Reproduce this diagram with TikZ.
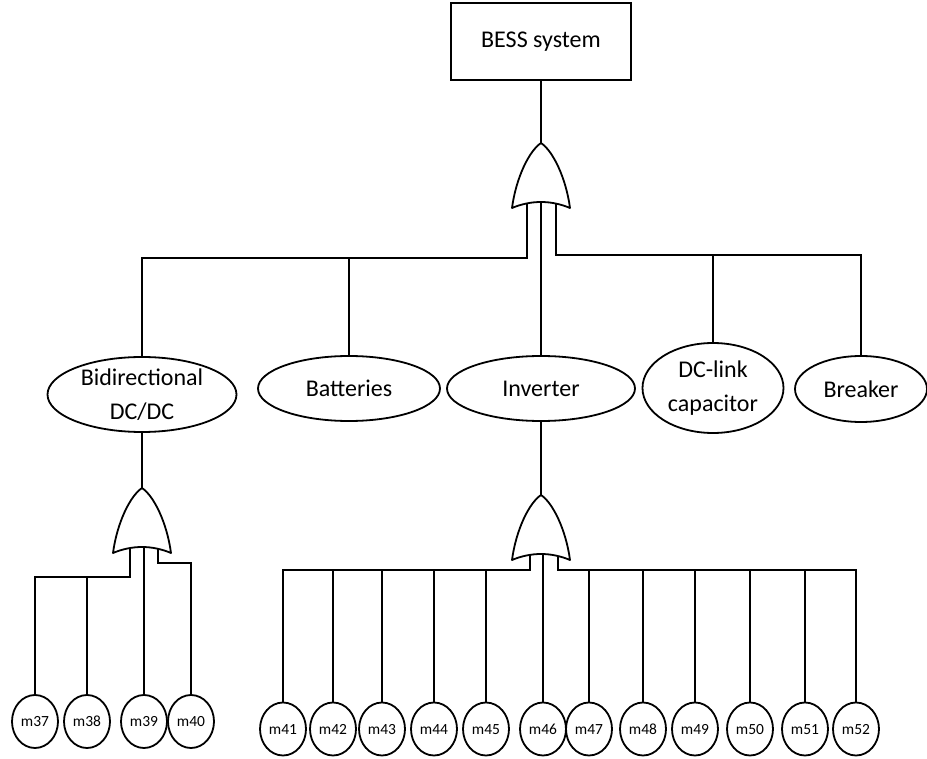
\documentclass[tikz,border=0pt]{standalone}
\usepackage{fontspec}
\setmainfont{Carlito}
\usetikzlibrary{shapes.geometric}
\begin{document}
\begin{tikzpicture}[x=1pt,y=-1pt,line width=1.8pt,
  topbox/.style={draw,rectangle,minimum width=180pt,minimum height=77pt,inner sep=0pt,font=\fontsize{24}{34}\selectfont},
  ev/.style={draw,ellipse,inner sep=0pt},
  evtext/.style={inner sep=0pt,align=center,font=\fontsize{24}{34}\selectfont},
  bev/.style={draw,ellipse,inner sep=0pt,minimum width=46pt,minimum height=53pt,text height=10.5pt,text depth=0pt,font=\fontsize{15.5}{18}\selectfont},
  gatestyle/.style={draw,fill=white,line join=round},
  orgate/.pic={\path[gatestyle] (-29,65) .. controls (-25,35) and (-12,8) .. (0,0)
      .. controls (12,8) and (25,35) .. (29,65)
      .. controls (10,57) and (-10,57) .. cycle;}]
\useasboundingbox (0,0) rectangle (927,759);

% top event
\node[topbox] (bess) at (541,41.5) {BESS system};

% intermediate events
\node[ev,minimum width=189pt,minimum height=75pt] (bd) at (142,394.5) {};
\node[evtext] (bdt) at (bd) {Bidirectional\\DC/DC};
\node[ev,minimum width=182pt,minimum height=65pt] (bat) at (349,388.5) {};
\node[evtext] (batt) at (bat) {Batteries};
\node[ev,minimum width=188pt,minimum height=65pt] (inv) at (541,388.5) {};
\node[evtext] (invt) at (inv) {Inverter};
\node[ev,minimum width=141pt,minimum height=90pt] (dcl) at (713,388) {};
\node[evtext] (dclt) at (dcl) {DC-link\\capacitor};
\node[ev,minimum width=132pt,minimum height=66pt] (brk) at (861,389) {};
\node[evtext] (brkt) at (brk) {Breaker};

% basic events
\node[bev] (m37) at (35,721.5) {m37};
\node[bev] (m38) at (87,721.5) {m38};
\node[bev] (m39) at (144,721.5) {m39};
\node[bev] (m40) at (191,721.5) {m40};
\node[bev] (m41) at (283,729) {m41};
\node[bev] (m42) at (333,729) {m42};
\node[bev] (m43) at (382,729) {m43};
\node[bev] (m44) at (434,729) {m44};
\node[bev] (m45) at (486,729) {m45};
\node[bev] (m46) at (543,729) {m46};
\node[bev] (m47) at (589,729) {m47};
\node[bev] (m48) at (643,729) {m48};
\node[bev] (m49) at (695,729) {m49};
\node[bev] (m50) at (750,729) {m50};
\node[bev] (m51) at (805,729) {m51};
\node[bev] (m52) at (856,729) {m52};

% gate coordinates
\coordinate (g1) at (541,143);
\coordinate (g1-l) at (527,200);
\coordinate (g1-m) at (541,200);
\coordinate (g1-r) at (556,200);
\coordinate (g2) at (142,488);
\coordinate (g2-l) at (130,545);
\coordinate (g2-m) at (144,545);
\coordinate (g2-r) at (158,545);
\coordinate (g3) at (541,495);
\coordinate (g3-l) at (530,552);
\coordinate (g3-m) at (543,552);
\coordinate (g3-r) at (558,552);

% bus corners
\coordinate (busL) at (142,258);
\coordinate (busR) at (861,255);
\coordinate (busA) at (35,577);
\coordinate (busB) at (191,563);
\coordinate (busC) at (283,570);
\coordinate (busD) at (856,570);

% connectors
\draw (bess.south) -- (g1);
\draw (g1-l) |- (busL) -- (bd.north);
\draw (bat.north |- busL) -- (bat.north);
\draw (g1-m) -- (inv.north);
\draw (g1-r) |- (busR) -- (brk.north);
\draw (dcl.north |- busR) -- (dcl.north);

\draw (bd.south) -- (g2);
\draw (g2-l) |- (busA) -- (m37.north);
\draw (m38.north |- busA) -- (m38.north);
\draw (g2-m) -- (m39.north);
\draw (g2-r) |- (busB) -- (m40.north);

\draw (inv.south) -- (g3);
\draw (g3-l) |- (busC) -- (m41.north);
\foreach \m in {m42,m43,m44,m45}{\draw (\m.north |- busC) -- (\m.north);}
\draw (g3-m) -- (m46.north);
\draw (g3-r) |- (busD) -- (m52.north);
\foreach \m in {m47,m48,m49,m50,m51}{\draw (\m.north |- busD) -- (\m.north);}

% OR gates
\pic at (g1) {orgate};
\pic at (g2) {orgate};
\pic at (g3) {orgate};
\end{tikzpicture}
\end{document}
